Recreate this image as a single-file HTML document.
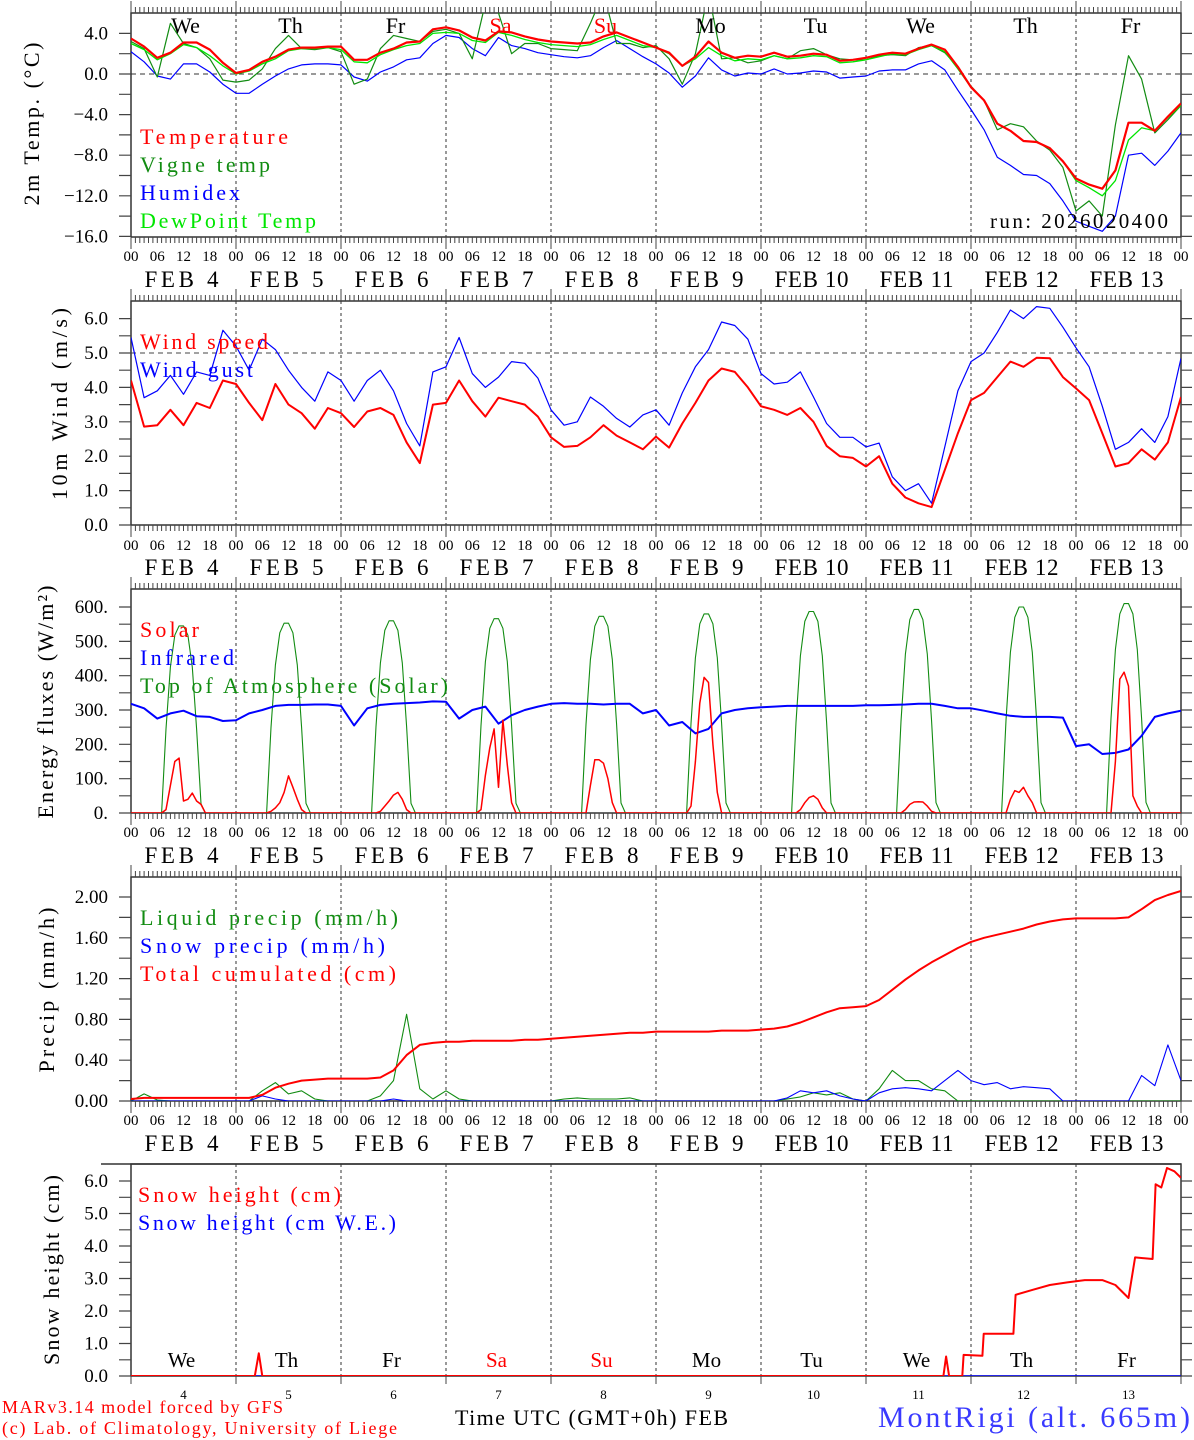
<!DOCTYPE html>
<html><head><meta charset="utf-8"><title>MontRigi forecast</title>
<style>
html,body{margin:0;padding:0;background:#fff;}
svg{display:block;font-family:"Liberation Serif","DejaVu Serif",serif;}
</style></head>
<body>
<svg id="chart" xmlns="http://www.w3.org/2000/svg" width="1194" height="1440" viewBox="0 0 1194 1440"></svg>
<script>
// ---------- DATA (3-hourly from Feb 4 00 UTC, 81 values) ----------
const dayNames = ['We','Th','Fr','Sa','Su','Mo','Tu','We','Th','Fr'];
const dayNumbers = ['4','5','6','7','8','9','10','11','12','13'];
const febLabels = ['FEB  4','FEB  5','FEB  6','FEB  7','FEB  8','FEB  9','FEB 10','FEB 11','FEB 12','FEB 13'];
const hourLabels = ['00','06','12','18'];

const tempVals = [3.5,2.7,1.6,2.1,3.1,3.1,2.4,1.1, 0.1,0.4,1.2,1.7,2.4,2.6,2.6,2.7, 2.7,1.4,1.4,2.1,2.5,3.1,3.2,4.4,
 4.6,4.3,3.6,3.3,4.2,4.1,3.7,3.4, 3.2,3.1,3.0,3.1,3.7,4.1,3.6,3.1, 2.6,2.1,0.8,1.7,3.2,2.1,1.6,1.8,
 1.7,2.1,1.7,1.8,2.0,1.9,1.3,1.4, 1.6,1.9,2.1,2.0,2.5,2.9,2.4,0.7, -1.3,-2.6,-4.9,-5.6,-6.6,-6.7,-7.3,-8.6,
 -10.3,-10.9,-11.3,-9.5,-4.8,-4.8,-5.6,-4.2, -2.9];
const vigneVals = [3.2,2.5,-0.3,5.0,3.0,2.6,1.5,-0.6, -0.8,-0.6,0.5,2.5,3.8,2.5,2.4,2.6, 2.2,-1.0,-0.5,2.5,3.8,3.5,3.2,4.2,
 4.4,4.0,1.5,7.0,6.0,2.0,3.0,3.0, 2.5,2.4,2.3,5.0,8.0,3.0,3.0,2.6, 2.8,1.5,-1.0,2.0,8.0,1.5,1.6,1.1,
 1.3,1.8,1.5,2.3,2.5,1.9,1.5,1.4, 1.4,1.8,1.9,1.8,2.6,2.8,2.1,0.7, -1.2,-2.6,-5.5,-4.9,-5.2,-6.6,-7.5,-9.2,
 -13.5,-12.5,-14.0,-5.0,1.8,-0.5,-5.8,-4.5, -3.1];
const humidexVals = [2.2,1.2,-0.2,-0.5,1.0,1.0,0.2,-1.0, -1.9,-1.9,-1.0,-0.2,0.5,0.9,1.0,1.0, 0.9,-0.3,-0.7,0.2,0.7,1.4,1.6,3.0,
 3.8,3.6,2.5,1.8,3.6,2.8,2.5,2.1, 1.9,1.7,1.6,1.8,2.6,3.3,2.5,1.7, 1.0,0.1,-1.3,-0.2,1.6,0.4,-0.2,0.1,
 0.0,0.5,0.0,0.1,0.3,0.2,-0.4,-0.3, -0.2,0.3,0.4,0.4,1.0,1.3,0.4,-1.6, -3.5,-5.5,-8.2,-9.0,-9.9,-10.0,-10.8,-12.5,
 -14.5,-15.0,-15.5,-14.0,-8.0,-7.8,-9.0,-7.6, -5.8];
const dewVals = [3.0,2.4,1.4,2.0,2.9,2.6,1.8,0.8, 0.0,0.3,1.0,1.5,2.3,2.5,2.5,2.6, 2.4,1.2,1.1,1.9,2.4,2.8,3.0,4.0,
 4.1,4.0,3.3,3.1,4.1,3.8,3.4,3.1, 2.9,2.8,2.7,2.9,3.4,3.8,3.3,2.8, 2.6,2.0,0.8,1.5,2.6,1.8,1.3,1.5,
 1.4,1.8,1.5,1.6,1.8,1.7,1.1,1.2, 1.4,1.7,2.0,1.9,2.4,2.8,2.2,0.5, -1.3,-2.6,-4.9,-5.6,-6.6,-6.7,-7.3,-8.6,
 -10.5,-11.2,-12.0,-10.5,-6.5,-5.3,-5.6,-4.3, -3.1];

const windVals = [4.2,2.86,2.9,3.35,2.9,3.55,3.4,4.2, 4.1,3.55,3.05,4.1,3.5,3.25,2.8,3.4, 3.25,2.85,3.3,3.4,3.2,2.4,1.8,3.5,
 3.55,4.2,3.6,3.15,3.7,3.6,3.5,3.15, 2.55,2.27,2.3,2.55,2.9,2.6,2.4,2.2, 2.57,2.25,2.95,3.55,4.2,4.55,4.45,4.0,
 3.45,3.35,3.2,3.4,3.0,2.3,2.0,1.95, 1.7,2.0,1.2,0.8,0.63,0.52,1.6,2.67, 3.63,3.84,4.3,4.75,4.6,4.86,4.85,4.3,
 3.97,3.63,2.67,1.7,1.8,2.2,1.9,2.4, 3.72];
const gustVals = [5.45,3.7,3.9,4.35,3.8,4.45,4.35,5.66, 5.2,4.5,5.4,5.1,4.5,4.0,3.6,4.45, 4.2,3.6,4.2,4.5,3.9,2.95,2.3,4.45,
 4.6,5.45,4.4,4.0,4.3,4.75,4.7,4.27, 3.35,2.9,3.0,3.72,3.45,3.1,2.85,3.2, 3.35,2.9,3.84,4.6,5.1,5.9,5.8,5.4,
 4.4,4.1,4.15,4.45,3.72,2.95,2.55,2.55, 2.27,2.38,1.4,1.0,1.2,0.63,2.27,3.9, 4.75,5.0,5.6,6.25,6.0,6.35,6.3,5.75,
 5.15,4.6,3.45,2.2,2.4,2.8,2.4,3.15, 4.85];

const infraredVals = [318,305,275,290,298,282,280,268, 270,290,300,312,315,315,316,316, 312,255,305,315,318,320,322,325,
 324,275,300,310,260,285,300,310, 318,320,318,318,316,318,318,290, 300,255,265,232,245,290,300,305,
 308,310,312,312,312,312,312,312, 314,314,315,316,318,318,312,305, 305,298,290,283,280,280,280,278,
 195,200,172,175,185,225,280,290, 298];
// hourly solar, hours 06..18 of each day
const solarByDay = [
 [0,0,10,80,150,160,35,40,58,35,25,0,0],
 [0,0,5,15,30,60,108,75,40,10,0,0,0],
 [0,0,0,5,20,35,52,60,40,10,0,0,0],
 [0,0,10,110,190,245,75,270,140,30,0,0,0],
 [0,0,0,80,155,155,145,100,30,0,0,0,0],
 [0,0,20,150,320,395,380,200,60,0,0,0,0],
 [0,0,0,10,30,45,50,40,15,0,0,0,0],
 [0,0,0,10,25,32,33,32,20,5,0,0,0],
 [0,0,0,40,65,60,75,50,30,0,0,0,0],
 [0,0,0,150,390,410,370,50,20,0,0,0,0]];
const toaByDay = [
 [0,0,245,425,518,545,545,518,425,245,27,0,0],
 [0,0,249,431,525,553,553,525,431,249,28,0,0],
 [0,0,252,437,532,560,560,532,437,252,28,0,0],
 [0,0,255,441,538,566,566,538,441,255,28,0,0],
 [0,0,258,447,544,573,573,544,447,258,29,0,0],
 [0,0,261,452,551,580,580,551,452,261,29,0,0],
 [0,0,264,458,558,587,587,558,458,264,29,0,0],
 [0,0,267,463,563,593,593,563,463,267,30,0,0],
 [0,0,270,468,570,600,600,570,468,270,30,0,0],
 [0,0,275,476,580,610,610,580,476,275,31,0,0]];

const totalPrecipVals = [.02,.03,.03,.03,.03,.03,.03,.03, .03,.03,.06,.13,.17,.20,.21,.22, .22,.22,.22,.23,.30,.45,.55,.57,
 .58,.58,.59,.59,.59,.59,.60,.60, .61,.62,.63,.64,.65,.66,.67,.67, .68,.68,.68,.68,.68,.69,.69,.69,
 .70,.71,.73,.77,.82,.87,.91,.92, .93,.99,1.09,1.19,1.28,1.36,1.43,1.50, 1.56,1.60,1.63,1.66,1.69,1.73,1.76,1.78,
 1.79,1.79,1.79,1.79,1.80,1.88,1.97,2.02, 2.06];
const liquidVals = [0,.07,.01,0,0,0,0,0, 0,0,.1,.18,.07,.1,.02,0, 0,0,0,.05,.2,.85,.12,.02,
 .1,.02,0,0,0,0,0,0, 0,.02,.03,.02,.02,.02,.03,0, 0,0,0,0,0,0,0,0,
 0,0,.02,.04,.08,.06,.08,.02, 0,.12,.3,.2,.2,.12,.1,0, 0,0,0,0,0,0,0,0,
 0,0,0,0,0,0,0,0, 0];
const snowPrecipVals = [0,0,0,0,0,0,0,0, 0,0,.05,.02,0,0,0,0, 0,0,0,0,.02,0,0,0,
 0,0,0,0,0,0,0,0, 0,0,0,0,0,0,0,0, 0,0,0,0,0,0,0,0,
 0,0,.03,.1,.08,.1,.05,.02, 0,.08,.12,.13,.12,.1,.2,.3, .2,.16,.18,.12,.14,.13,.12,0,
 0,0,0,0,0,.25,.15,.55, .2];

const snowHours = [0,28.3,29.2,30,185.7,186.3,187,190,190.3,194.6,194.9,201.7,202.2,206,210,214,218,222,225,228,229.5,233.5,234.2,235.5,236.8,238.5,240];
const snowHeightVals = [0,0,0.7,0,0,0.6,0,0,0.65,0.62,1.3,1.3,2.5,2.65,2.8,2.88,2.95,2.95,2.8,2.4,3.65,3.6,5.9,5.8,6.4,6.3,6.1];
const snowWEVals = [0,0,0,0,0,0,0,0,0,0,0,0,0,0,0,0,0,0,0,0,0,0,0,0,0,0,0];

// ---------- LAYOUT ----------
const NS = 'http://www.w3.org/2000/svg';
const svg = document.getElementById('chart');
const X0 = 131, X1 = 1181;
function xs(h){ return X0 + h*(X1-X0)/240; }
function mk(tag, attrs, parent){
  const e = document.createElementNS(NS, tag);
  for (const k in attrs) e.setAttribute(k, attrs[k]);
  (parent||svg).appendChild(e);
  return e;
}
const panels = [
  {id:'temp', top:13, bot:237, y:v=>74-10.15*v, lo:-16, hi:4, major:4, minor:2, fmt:v=>v.toFixed(1), hourY:261, febY:287, ticksTop:true},
  {id:'wind', top:301, bot:525, y:v=>525-34.4*v, lo:0, hi:6, major:1, minor:0.5, fmt:v=>v.toFixed(1), hourY:550, febY:575, ticksTop:true},
  {id:'energy', top:589, bot:813, y:v=>813-0.3433*v, lo:0, hi:600, major:100, minor:50, fmt:v=>v.toFixed(0)+'.', hourY:837, febY:863, ticksTop:true},
  {id:'precip', top:877, bot:1101, y:v=>1101-102*v, lo:0, hi:2, major:0.4, minor:0.2, fmt:v=>v.toFixed(2), hourY:1125, febY:1151, ticksTop:true},
  {id:'snow', top:1164, bot:1376, y:v=>1376-32.5*v, lo:0, hi:6, major:1, minor:0.5, fmt:v=>v.toFixed(1), hourY:null, febY:null, ticksTop:false}
];

function txt(s, x, y, size, color, anchor, len, parent){
  const t = mk('text', {x:x, y:y, 'font-size':size, fill:color||'#000', 'text-anchor':anchor||'start'}, parent);
  if (len){ t.setAttribute('textLength', len); t.setAttribute('lengthAdjust','spacing'); }
  t.setAttribute('xml:space','preserve');
  t.textContent = s;
  return t;
}

panels.forEach((p, pi) => {
  const g = mk('g', {});
  
  
  const cp = mk('clipPath', {id:'clip'+pi}, g);
  mk('rect', {x:X0, y:p.top, width:X1-X0, height:p.bot-p.top}, cp);

  for (let d=1; d<10; d++){
    const l = mk('line', {x1:xs(d*24), x2:xs(d*24), y1:p.top, y2:p.bot + (pi===4?6:0), stroke: '#333', 'stroke-width':1, 'stroke-dasharray':'3,3'}, g);
    
    
  }
  const fr = mk('path', {d:`M${X0},${p.bot} V${p.top} H${X1} V${p.bot} H${X0}`, fill:'none', stroke:'#333', 'stroke-width':1.5}, g);
  
  
  if (pi===4){ const ext = mk('line',{x1:X0-30,x2:X1,y1:p.top,y2:p.top,stroke:'#333','stroke-width':1.5},g);
    
     }

  let td = '';
  for (let h=0; h<=240; h++){
    const x = xs(h).toFixed(1);
    const isDay = h%24===0;
    if (p.ticksTop) td += `M${x},${p.top} V${p.top-(isDay?12:6)} `;
    if (pi<4) td += `M${x},${p.bot} V${p.bot+(isDay?12:6)} `;
    else if (isDay) td += `M${x},${p.bot} V${p.bot+8} `;
  }
  const tk = mk('path', {d:td, stroke:'#444', 'stroke-width':1, fill:'none'}, g);
  
  

  let yd = '';
  for (let v=p.lo; v<=p.hi+1e-9; v+=p.minor){
    const y = p.y(v).toFixed(1);
    yd += `M${X0},${y} H${X0-12} M${X1},${y} H${X1+11} `;
  }
  const yt = mk('path', {d:yd, stroke:'#444', 'stroke-width':1.2, fill:'none'}, g);
  
  
  for (let v=p.lo; v<=p.hi+1e-9; v+=p.major){
    const t = txt(p.fmt(Math.abs(v)<1e-9?0:v).replace('-','\u2212'), 108, p.y(v)+6, 19, '#000', 'end', null, g);
    
    
  }
  if (p.hourY){
    for (let h=0; h<=240; h+=6){
      const t = txt(hourLabels[(h/6)%4], xs(h), p.hourY, 15, '#000', 'middle', null, g);
      
      
    }
    for (let d=0; d<10; d++){
      const t = txt(febLabels[d], xs(d*24+12)-2, p.febY, 23, '#000', 'middle', 74, g);
      
      
    }
  }
  p.g = g;
});

function series(pi, hours, vals, color, w, name){
  const p = panels[pi];
  let d = '';
  for (let i=0; i<vals.length; i++) d += (i?'L':'M') + xs(hours[i]).toFixed(1) + ',' + p.y(vals[i]).toFixed(1);
  const e = mk('path', {d:d, fill:'none', stroke:color, 'stroke-width':w, 'stroke-linejoin':'round', 'clip-path':`url(#clip${pi})`}, p.g);
  
  
  return e;
}
const h3 = tempVals.map((_, i) => i*3);
function hourlyPoints(byDay){
  const hh=[0], vv=[0];
  byDay.forEach((arr,d) => arr.forEach((v,j) => { hh.push(d*24+6+j); vv.push(v); }));
  hh.push(240); vv.push(0);
  return [hh, vv];
}

{
  const p = panels[0];
  const z = mk('line', {x1:X0, x2:X1, y1:p.y(0), y2:p.y(0), stroke:'#333', 'stroke-dasharray':'5,4'}, p.g);
  
  
  series(0, h3, humidexVals, '#0000ff', 1.2, 'humidex-line');
  series(0, h3, vigneVals, '#128c12', 1.2, 'vigne-temp-line');
  series(0, h3, dewVals, '#00e600', 1.3, 'dewpoint-line');
  series(0, h3, tempVals, '#ff0000', 2.2, 'temperature-line');
  dayNames.forEach((n, d) => {
    const t = txt(n, xs(d*24+12)+2, 33, 22, (n==='Sa'||n==='Su')?'#ff0000':'#000', 'middle', null, p.g);
    
    
  });
  const L = [['Temperature','#ff0000',148],['Vigne temp','#128c12',130],['Humidex','#0000ff',100],['DewPoint Temp','#00e600',176]];
  L.forEach((l,i) => { const t = txt(l[0], 140, 144+i*28, 22, l[1], 'start', l[2], p.g);
    
     });
  const r = txt('run: 2026020400', 1168, 228, 21, '#000', 'end', 178, p.g);
  
  
}
{
  const p = panels[1];
  const z = mk('line', {x1:X0, x2:X1, y1:p.y(5), y2:p.y(5), stroke:'#444', 'stroke-dasharray':'5,4'}, p.g);
  
  
  series(1, h3, gustVals, '#0000ff', 1.2, 'wind-gust-line');
  series(1, h3, windVals, '#ff0000', 2, 'wind-speed-line');
  const L = [['Wind speed','#ff0000',128],['Wind gust','#0000ff',113]];
  L.forEach((l,i) => { const t = txt(l[0], 140, 349+i*28, 22, l[1], 'start', l[2], p.g);
    
     });
}
{
  const p = panels[2];
  const toa = hourlyPoints(toaByDay);
  series(2, toa[0], toa[1], '#128c12', 1.1, 'toa-solar-line');
  series(2, h3, infraredVals, '#0000ff', 2, 'infrared-line');
  const sol = hourlyPoints(solarByDay);
  series(2, sol[0], sol[1], '#ff0000', 1.5, 'solar-line');
  const L = [['Solar','#ff0000',59],['Infrared','#0000ff',94],['Top of Atmosphere (Solar)','#128c12',308]];
  L.forEach((l,i) => { const t = txt(l[0], 140, 637+i*28, 22, l[1], 'start', l[2], p.g);
    
     });
}
{
  const p = panels[3];
  series(3, h3, liquidVals, '#128c12', 1.1, 'liquid-precip-line');
  series(3, h3, snowPrecipVals, '#0000ff', 1.1, 'snow-precip-line');
  series(3, h3, totalPrecipVals, '#ff0000', 2, 'total-cumulated-line');
  const L = [['Liquid precip (mm/h)','#128c12',258],['Snow precip (mm/h)','#0000ff',245],['Total cumulated (cm)','#ff0000',256]];
  L.forEach((l,i) => { const t = txt(l[0], 140, 925+i*28, 22, l[1], 'start', l[2], p.g);
    
     });
}
{
  const p = panels[4];
  series(4, snowHours, snowWEVals, '#0000ff', 1.5, 'snow-we-line');
  series(4, snowHours, snowHeightVals, '#ff0000', 2, 'snow-height-line');
  const L = [['Snow height (cm)','#ff0000',203],['Snow height (cm W.E.)','#0000ff',258]];
  L.forEach((l,i) => { const t = txt(l[0], 138, 1202+i*28, 22, l[1], 'start', l[2], p.g);
    
     });
  dayNames.forEach((n, d) => {
    const t = txt(n, xs(d*24+12)-2, 1367, 21, (n==='Sa'||n==='Su')?'#ff0000':'#000', 'middle', null, p.g);
    
    
  });
  dayNumbers.forEach((n, d) => {
    const t = txt(n, xs(d*24+12), 1399, 13, '#000', 'middle', null, p.g);
    
    
  });
}
const titles = [['2m Temp. (\u00B0C)',32,124,163],['10m Wind (m/s)',60,404,192],['Energy fluxes (W/m\u00B2)',46,702,233],['Precip (mm/h)',47,990,165],['Snow height (cm)',52,1270,190]];
titles.forEach(t => {
  const e = txt(t[0], 0, 0, 22, '#000', 'middle', t[3]);
  e.setAttribute('transform', `translate(${t[1]+7},${t[2]}) rotate(-90)`);
  
  
});
{
  const a = txt('Time UTC (GMT+0h) FEB', 455, 1425, 22, '#000', 'start', 273);
  
  
  const b = txt('MontRigi (alt. 665m)', 878, 1427, 30, '#3a3aff', 'start', 312);
  
  
  const c = txt('MARv3.14 model forced by GFS', 2, 1413, 18, '#ff0000', 'start', 281);
  
  
  const d = txt('(c) Lab. of Climatology, University of Liege', 2, 1434, 18, '#ff0000', 'start', 395);
  
  
}
</script>
</body></html>
